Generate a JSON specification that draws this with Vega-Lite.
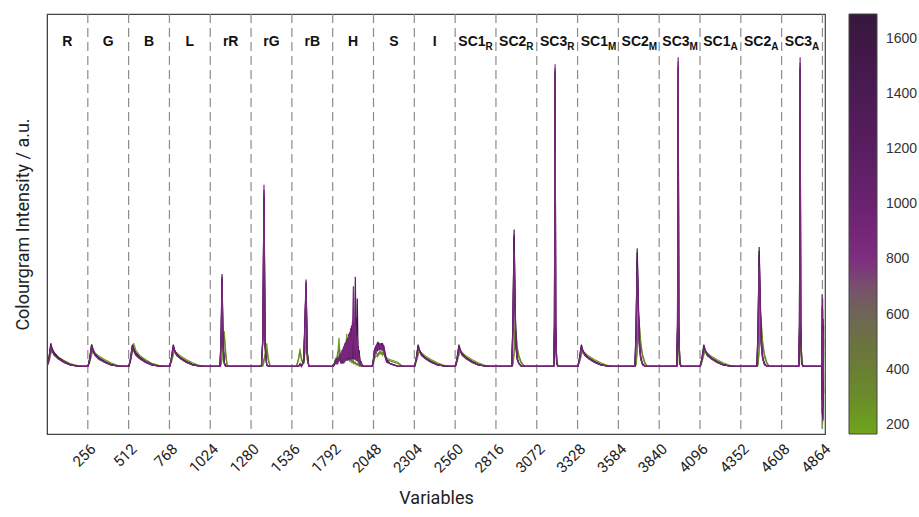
{
  "$schema": "https://vega.github.io/schema/vega-lite/v6.json",
  "width": 778,
  "height": 420,
  "padding": {"left": 14, "top": 13, "right": 0, "bottom": 0},
  "config": {"view": {"stroke": "#444", "strokeWidth": 1.2}, "font": "Roboto"},
  "datasets": {
    "series": [
      {"k": "a", "c": 190}, {"k": "b", "c": 380}, {"k": "c", "c": 850},
      {"k": "d", "c": 1150}, {"k": "e", "c": 1400}, {"k": "f", "c": 1650}
    ],
    "dividers": [
      {"x": 256}, {"x": 512}, {"x": 768}, {"x": 1024}, {"x": 1280}, {"x": 1536}, {"x": 1792},
      {"x": 2048}, {"x": 2304}, {"x": 2560}, {"x": 2816}, {"x": 3072}, {"x": 3328}, {"x": 3584},
      {"x": 3840}, {"x": 4096}, {"x": 4352}, {"x": 4608}, {"x": 4864}
    ],
    "plainLabels": [
      {"x": 128, "t": "R"}, {"x": 384, "t": "G"}, {"x": 640, "t": "B"}, {"x": 896, "t": "L"},
      {"x": 1152, "t": "rR"}, {"x": 1408, "t": "rG"}, {"x": 1664, "t": "rB"}, {"x": 1920, "t": "H"},
      {"x": 2176, "t": "S"}, {"x": 2432, "t": "I"}
    ],
    "subLabels": [
      {"x": 2688, "t": "SC1", "s": "R"}, {"x": 2944, "t": "SC2", "s": "R"}, {"x": 3200, "t": "SC3", "s": "R"},
      {"x": 3456, "t": "SC1", "s": "M"}, {"x": 3712, "t": "SC2", "s": "M"}, {"x": 3968, "t": "SC3", "s": "M"},
      {"x": 4224, "t": "SC1", "s": "A"}, {"x": 4480, "t": "SC2", "s": "A"}, {"x": 4736, "t": "SC3", "s": "A"}
    ],
    "curves": [
      {"x": 0, "a": 0, "b": 0, "c": 0, "d": 0, "e": 0, "f": 0},
      {"x": 12, "a": 0.03, "b": 0.04, "c": 0.05, "d": 0.06, "e": 0.06, "f": 0.05},
      {"x": 24, "a": 0.09, "b": 0.11, "c": 0.14, "d": 0.16, "e": 0.17, "f": 0.15},
      {"x": 32, "a": 0.12, "b": 0.12, "c": 0.11, "d": 0.12, "e": 0.13, "f": 0.13},
      {"x": 45, "a": 0.1, "b": 0.09, "c": 0.08, "d": 0.085, "e": 0.09, "f": 0.1},
      {"x": 70, "a": 0.07, "b": 0.065, "c": 0.055, "d": 0.055, "e": 0.06, "f": 0.065},
      {"x": 105, "a": 0.045, "b": 0.04, "c": 0.03, "d": 0.03, "e": 0.03, "f": 0.035},
      {"x": 145, "a": 0.02, "b": 0.015, "c": 0.01, "d": 0.01, "e": 0.01, "f": 0.012},
      {"x": 190, "a": 0.005, "b": 0.003, "c": 0.002, "d": 0.002, "e": 0, "f": 0},
      {"x": 225, "a": 0, "b": 0, "c": 0, "d": 0, "e": 0, "f": 0},

      {"x": 258, "a": 0, "b": 0, "c": 0, "d": 0, "e": 0, "f": 0},
      {"x": 268, "a": 0.03, "b": 0.04, "c": 0.05, "d": 0.06, "e": 0.05, "f": 0.06},
      {"x": 280, "a": 0.08, "b": 0.1, "c": 0.13, "d": 0.16, "e": 0.15, "f": 0.16},
      {"x": 288, "a": 0.11, "b": 0.12, "c": 0.11, "d": 0.12, "e": 0.12, "f": 0.13},
      {"x": 301, "a": 0.1, "b": 0.09, "c": 0.08, "d": 0.08, "e": 0.09, "f": 0.09},
      {"x": 326, "a": 0.075, "b": 0.065, "c": 0.05, "d": 0.055, "e": 0.06, "f": 0.06},
      {"x": 361, "a": 0.05, "b": 0.04, "c": 0.03, "d": 0.03, "e": 0.03, "f": 0.035},
      {"x": 401, "a": 0.025, "b": 0.015, "c": 0.01, "d": 0.01, "e": 0.01, "f": 0.012},
      {"x": 446, "a": 0.005, "b": 0.003, "c": 0.002, "d": 0.002, "e": 0, "f": 0},
      {"x": 481, "a": 0, "b": 0, "c": 0, "d": 0, "e": 0, "f": 0},

      {"x": 514, "a": 0, "b": 0, "c": 0, "d": 0, "e": 0, "f": 0},
      {"x": 524, "a": 0.04, "b": 0.04, "c": 0.05, "d": 0.06, "e": 0.06, "f": 0.05},
      {"x": 536, "a": 0.12, "b": 0.11, "c": 0.13, "d": 0.15, "e": 0.16, "f": 0.15},
      {"x": 544, "a": 0.17, "b": 0.14, "c": 0.11, "d": 0.12, "e": 0.13, "f": 0.12},
      {"x": 557, "a": 0.12, "b": 0.1, "c": 0.08, "d": 0.085, "e": 0.09, "f": 0.1},
      {"x": 582, "a": 0.08, "b": 0.07, "c": 0.055, "d": 0.055, "e": 0.06, "f": 0.065},
      {"x": 617, "a": 0.05, "b": 0.045, "c": 0.03, "d": 0.03, "e": 0.03, "f": 0.035},
      {"x": 657, "a": 0.022, "b": 0.018, "c": 0.01, "d": 0.01, "e": 0.01, "f": 0.012},
      {"x": 702, "a": 0.006, "b": 0.004, "c": 0.002, "d": 0.002, "e": 0, "f": 0},
      {"x": 737, "a": 0, "b": 0, "c": 0, "d": 0, "e": 0, "f": 0},

      {"x": 770, "a": 0, "b": 0, "c": 0, "d": 0, "e": 0, "f": 0},
      {"x": 780, "a": 0.03, "b": 0.04, "c": 0.05, "d": 0.06, "e": 0.06, "f": 0.05},
      {"x": 792, "a": 0.08, "b": 0.1, "c": 0.13, "d": 0.15, "e": 0.16, "f": 0.14},
      {"x": 800, "a": 0.11, "b": 0.11, "c": 0.11, "d": 0.12, "e": 0.12, "f": 0.12},
      {"x": 813, "a": 0.1, "b": 0.09, "c": 0.08, "d": 0.08, "e": 0.09, "f": 0.09},
      {"x": 838, "a": 0.075, "b": 0.065, "c": 0.055, "d": 0.055, "e": 0.06, "f": 0.06},
      {"x": 873, "a": 0.05, "b": 0.04, "c": 0.03, "d": 0.03, "e": 0.03, "f": 0.035},
      {"x": 913, "a": 0.025, "b": 0.015, "c": 0.01, "d": 0.01, "e": 0.01, "f": 0.012},
      {"x": 958, "a": 0.006, "b": 0.003, "c": 0.002, "d": 0.002, "e": 0, "f": 0},
      {"x": 993, "a": 0, "b": 0, "c": 0, "d": 0, "e": 0, "f": 0},

      {"x": 1085, "a": 0, "b": 0, "c": 0, "d": 0, "e": 0, "f": 0},
      {"x": 1092, "a": 0.01, "b": 0.02, "c": 0.15, "d": 0.2, "e": 0.22, "f": 0.18},
      {"x": 1098, "a": 0.05, "b": 0.08, "c": 0.62, "d": 0.68, "e": 0.66, "f": 0.64},
      {"x": 1104, "a": 0.2, "b": 0.18, "c": 0.15, "d": 0.18, "e": 0.2, "f": 0.16},
      {"x": 1112, "a": 0.26, "b": 0.22, "c": 0.02, "d": 0.03, "e": 0.03, "f": 0.02},
      {"x": 1120, "a": 0.12, "b": 0.08, "c": 0, "d": 0, "e": 0, "f": 0},
      {"x": 1130, "a": 0.01, "b": 0, "c": 0, "d": 0, "e": 0, "f": 0},
      {"x": 1140, "a": 0, "b": 0, "c": 0, "d": 0, "e": 0, "f": 0},

      {"x": 1345, "a": 0, "b": 0, "c": 0, "d": 0, "e": 0, "f": 0},
      {"x": 1354, "a": 0, "b": 0.01, "c": 0.2, "d": 0.2, "e": 0.22, "f": 0.2},
      {"x": 1361, "a": 0.03, "b": 0.05, "c": 1.34, "d": 1.3, "e": 1.27, "f": 1.25},
      {"x": 1368, "a": 0.1, "b": 0.08, "c": 0.15, "d": 0.15, "e": 0.16, "f": 0.14},
      {"x": 1378, "a": 0.17, "b": 0.13, "c": 0.01, "d": 0.01, "e": 0.01, "f": 0.01},
      {"x": 1388, "a": 0.06, "b": 0.04, "c": 0, "d": 0, "e": 0, "f": 0},
      {"x": 1400, "a": 0, "b": 0, "c": 0, "d": 0, "e": 0, "f": 0},

      {"x": 1565, "a": 0, "b": 0, "c": 0, "d": 0, "e": 0, "f": 0},
      {"x": 1578, "a": 0.06, "b": 0.05, "c": 0, "d": 0, "e": 0, "f": 0},
      {"x": 1587, "a": 0.13, "b": 0.11, "c": 0.01, "d": 0.01, "e": 0.02, "f": 0.01},
      {"x": 1596, "a": 0.04, "b": 0.06, "c": 0.01, "d": 0, "e": 0, "f": 0},
      {"x": 1610, "a": 0.02, "b": 0.02, "c": 0.03, "d": 0.04, "e": 0.04, "f": 0.03},
      {"x": 1618, "a": 0.1, "b": 0.12, "c": 0.3, "d": 0.35, "e": 0.3, "f": 0.32},
      {"x": 1625, "a": 0.2, "b": 0.25, "c": 0.6, "d": 0.64, "e": 0.62, "f": 0.58},
      {"x": 1632, "a": 0.05, "b": 0.06, "c": 0.1, "d": 0.12, "e": 0.1, "f": 0.1},
      {"x": 1642, "a": 0, "b": 0, "c": 0, "d": 0, "e": 0, "f": 0},

      {"x": 1796, "a": 0, "b": 0, "c": 0, "d": 0, "e": 0, "f": 0},
      {"x": 1802, "a": 0.02, "b": 0.01, "c": 0.01, "d": 0.02, "e": 0.01, "f": 0.02},
      {"x": 1808, "a": 0.05, "b": 0.03, "c": 0.02, "d": 0.03, "e": 0.04, "f": 0.02},
      {"x": 1814, "a": 0.03, "b": 0.06, "c": 0.04, "d": 0.02, "e": 0.03, "f": 0.05},
      {"x": 1820, "a": 0.08, "b": 0.04, "c": 0.03, "d": 0.05, "e": 0.02, "f": 0.04},
      {"x": 1826, "a": 0.12, "b": 0.09, "c": 0.05, "d": 0.03, "e": 0.06, "f": 0.04},
      {"x": 1832, "a": 0.21, "b": 0.14, "c": 0.04, "d": 0.07, "e": 0.05, "f": 0.06},
      {"x": 1838, "a": 0.06, "b": 0.1, "c": 0.08, "d": 0.05, "e": 0.09, "f": 0.07},
      {"x": 1844, "a": 0.04, "b": 0.05, "c": 0.1, "d": 0.02, "e": 0.06, "f": 0.09},
      {"x": 1850, "a": 0.06, "b": 0.08, "c": 0.03, "d": 0.12, "e": 0.02, "f": 0.08},
      {"x": 1856, "a": 0.03, "b": 0.05, "c": 0.13, "d": 0.03, "e": 0.12, "f": 0.02},
      {"x": 1862, "a": 0.05, "b": 0.07, "c": 0.02, "d": 0.15, "e": 0.03, "f": 0.14},
      {"x": 1868, "a": 0.09, "b": 0.06, "c": 0.17, "d": 0.04, "e": 0.16, "f": 0.03},
      {"x": 1874, "a": 0.12, "b": 0.15, "c": 0.04, "d": 0.18, "e": 0.05, "f": 0.17},
      {"x": 1880, "a": 0.24, "b": 0.18, "c": 0.2, "d": 0.05, "e": 0.19, "f": 0.04},
      {"x": 1886, "a": 0.08, "b": 0.12, "c": 0.05, "d": 0.21, "e": 0.04, "f": 0.19},
      {"x": 1892, "a": 0.05, "b": 0.06, "c": 0.24, "d": 0.06, "e": 0.22, "f": 0.05},
      {"x": 1898, "a": 0.04, "b": 0.05, "c": 0.06, "d": 0.25, "e": 0.05, "f": 0.22},
      {"x": 1904, "a": 0.06, "b": 0.04, "c": 0.28, "d": 0.05, "e": 0.26, "f": 0.06},
      {"x": 1910, "a": 0.03, "b": 0.05, "c": 0.05, "d": 0.3, "e": 0.06, "f": 0.25},
      {"x": 1916, "a": 0.04, "b": 0.03, "c": 0.23, "d": 0.06, "e": 0.33, "f": 0.05},
      {"x": 1922, "a": 0.02, "b": 0.04, "c": 0.59, "d": 0.25, "e": 0.05, "f": 0.34},
      {"x": 1928, "a": 0.03, "b": 0.02, "c": 0.05, "d": 0.06, "e": 0.28, "f": 0.05},
      {"x": 1934, "a": 0.02, "b": 0.03, "c": 0.3, "d": 0.66, "e": 0.05, "f": 0.3},
      {"x": 1940, "a": 0.01, "b": 0.02, "c": 0.04, "d": 0.05, "e": 0.36, "f": 0.04},
      {"x": 1946, "a": 0.02, "b": 0.01, "c": 0.22, "d": 0.26, "e": 0.04, "f": 0.5},
      {"x": 1952, "a": 0.01, "b": 0.02, "c": 0.03, "d": 0.04, "e": 0.15, "f": 0.03},
      {"x": 1958, "a": 0, "b": 0.01, "c": 0.07, "d": 0.1, "e": 0.02, "f": 0.12},
      {"x": 1964, "a": 0.01, "b": 0, "c": 0.01, "d": 0.02, "e": 0.04, "f": 0.02},
      {"x": 1970, "a": 0, "b": 0, "c": 0.02, "d": 0.03, "e": 0.01, "f": 0.03},
      {"x": 1976, "a": 0, "b": 0, "c": 0, "d": 0.01, "e": 0, "f": 0.01},
      {"x": 1985, "a": 0, "b": 0, "c": 0, "d": 0, "e": 0, "f": 0},

      {"x": 2040, "a": 0, "b": 0, "c": 0, "d": 0, "e": 0, "f": 0},
      {"x": 2048, "a": 0.02, "b": 0.03, "c": 0.05, "d": 0.06, "e": 0.04, "f": 0.05},
      {"x": 2056, "a": 0.06, "b": 0.08, "c": 0.12, "d": 0.13, "e": 0.11, "f": 0.1},
      {"x": 2064, "a": 0.08, "b": 0.1, "c": 0.1, "d": 0.15, "e": 0.14, "f": 0.12},
      {"x": 2072, "a": 0.07, "b": 0.09, "c": 0.16, "d": 0.11, "e": 0.17, "f": 0.15},
      {"x": 2080, "a": 0.1, "b": 0.08, "c": 0.12, "d": 0.16, "e": 0.13, "f": 0.17},
      {"x": 2088, "a": 0.09, "b": 0.11, "c": 0.17, "d": 0.13, "e": 0.16, "f": 0.12},
      {"x": 2096, "a": 0.11, "b": 0.09, "c": 0.12, "d": 0.17, "e": 0.14, "f": 0.16},
      {"x": 2104, "a": 0.08, "b": 0.1, "c": 0.15, "d": 0.12, "e": 0.17, "f": 0.13},
      {"x": 2112, "a": 0.1, "b": 0.09, "c": 0.11, "d": 0.14, "e": 0.12, "f": 0.15},
      {"x": 2120, "a": 0.07, "b": 0.08, "c": 0.07, "d": 0.09, "e": 0.08, "f": 0.1},
      {"x": 2130, "a": 0.06, "b": 0.05, "c": 0.03, "d": 0.04, "e": 0.04, "f": 0.05},
      {"x": 2150, "a": 0.05, "b": 0.04, "c": 0.02, "d": 0.02, "e": 0.02, "f": 0.02},
      {"x": 2175, "a": 0.04, "b": 0.03, "c": 0.01, "d": 0.01, "e": 0.01, "f": 0.01},
      {"x": 2200, "a": 0.03, "b": 0.02, "c": 0, "d": 0, "e": 0, "f": 0},
      {"x": 2230, "a": 0, "b": 0, "c": 0, "d": 0, "e": 0, "f": 0},

      {"x": 2306, "a": 0, "b": 0, "c": 0, "d": 0, "e": 0, "f": 0},
      {"x": 2316, "a": 0.03, "b": 0.04, "c": 0.05, "d": 0.06, "e": 0.06, "f": 0.05},
      {"x": 2328, "a": 0.08, "b": 0.1, "c": 0.13, "d": 0.15, "e": 0.16, "f": 0.14},
      {"x": 2336, "a": 0.11, "b": 0.11, "c": 0.11, "d": 0.12, "e": 0.12, "f": 0.12},
      {"x": 2349, "a": 0.1, "b": 0.09, "c": 0.08, "d": 0.08, "e": 0.09, "f": 0.09},
      {"x": 2374, "a": 0.075, "b": 0.065, "c": 0.055, "d": 0.055, "e": 0.06, "f": 0.06},
      {"x": 2409, "a": 0.05, "b": 0.04, "c": 0.03, "d": 0.03, "e": 0.03, "f": 0.035},
      {"x": 2449, "a": 0.025, "b": 0.015, "c": 0.01, "d": 0.01, "e": 0.01, "f": 0.012},
      {"x": 2494, "a": 0.006, "b": 0.003, "c": 0.002, "d": 0.002, "e": 0, "f": 0},
      {"x": 2529, "a": 0, "b": 0, "c": 0, "d": 0, "e": 0, "f": 0},

      {"x": 2562, "a": 0, "b": 0, "c": 0, "d": 0, "e": 0, "f": 0},
      {"x": 2572, "a": 0.03, "b": 0.04, "c": 0.05, "d": 0.06, "e": 0.06, "f": 0.05},
      {"x": 2584, "a": 0.08, "b": 0.1, "c": 0.13, "d": 0.15, "e": 0.16, "f": 0.14},
      {"x": 2592, "a": 0.11, "b": 0.11, "c": 0.11, "d": 0.12, "e": 0.12, "f": 0.12},
      {"x": 2605, "a": 0.1, "b": 0.09, "c": 0.08, "d": 0.08, "e": 0.09, "f": 0.09},
      {"x": 2630, "a": 0.075, "b": 0.065, "c": 0.055, "d": 0.055, "e": 0.06, "f": 0.06},
      {"x": 2665, "a": 0.05, "b": 0.04, "c": 0.03, "d": 0.03, "e": 0.03, "f": 0.035},
      {"x": 2705, "a": 0.025, "b": 0.015, "c": 0.01, "d": 0.01, "e": 0.01, "f": 0.012},
      {"x": 2750, "a": 0.006, "b": 0.003, "c": 0.002, "d": 0.002, "e": 0, "f": 0},
      {"x": 2785, "a": 0, "b": 0, "c": 0, "d": 0, "e": 0, "f": 0},

      {"x": 2915, "a": 0, "b": 0, "c": 0, "d": 0, "e": 0, "f": 0},
      {"x": 2922, "a": 0.01, "b": 0.02, "c": 0.2, "d": 0.25, "e": 0.3, "f": 0.28},
      {"x": 2930, "a": 0.08, "b": 0.12, "c": 0.85, "d": 0.95, "e": 1.01, "f": 0.97},
      {"x": 2936, "a": 0.33, "b": 0.28, "c": 0.35, "d": 0.42, "e": 0.48, "f": 0.45},
      {"x": 2942, "a": 0.22, "b": 0.25, "c": 0.12, "d": 0.15, "e": 0.18, "f": 0.15},
      {"x": 2950, "a": 0.12, "b": 0.14, "c": 0.05, "d": 0.05, "e": 0.06, "f": 0.05},
      {"x": 2960, "a": 0.06, "b": 0.08, "c": 0.02, "d": 0.02, "e": 0.02, "f": 0.02},
      {"x": 2975, "a": 0.02, "b": 0.03, "c": 0, "d": 0, "e": 0, "f": 0},
      {"x": 2995, "a": 0, "b": 0, "c": 0, "d": 0, "e": 0, "f": 0},

      {"x": 3178, "a": 0, "b": 0, "c": 0, "d": 0, "e": 0, "f": 0},
      {"x": 3183, "a": 0.02, "b": 0.03, "c": 0.3, "d": 0.3, "e": 0.32, "f": 0.3},
      {"x": 3187, "a": 0.15, "b": 0.2, "c": 2.23, "d": 2.2, "e": 2.18, "f": 2.16},
      {"x": 3191, "a": 0.25, "b": 0.22, "c": 0.3, "d": 0.32, "e": 0.3, "f": 0.3},
      {"x": 3197, "a": 0.05, "b": 0.04, "c": 0.02, "d": 0.02, "e": 0.02, "f": 0.02},
      {"x": 3205, "a": 0, "b": 0, "c": 0, "d": 0, "e": 0, "f": 0},

      {"x": 3330, "a": 0, "b": 0, "c": 0, "d": 0, "e": 0, "f": 0},
      {"x": 3340, "a": 0.03, "b": 0.04, "c": 0.05, "d": 0.06, "e": 0.06, "f": 0.05},
      {"x": 3352, "a": 0.08, "b": 0.1, "c": 0.13, "d": 0.15, "e": 0.16, "f": 0.14},
      {"x": 3360, "a": 0.11, "b": 0.11, "c": 0.11, "d": 0.12, "e": 0.12, "f": 0.12},
      {"x": 3373, "a": 0.1, "b": 0.09, "c": 0.08, "d": 0.08, "e": 0.09, "f": 0.09},
      {"x": 3398, "a": 0.075, "b": 0.065, "c": 0.055, "d": 0.055, "e": 0.06, "f": 0.06},
      {"x": 3433, "a": 0.05, "b": 0.04, "c": 0.03, "d": 0.03, "e": 0.03, "f": 0.035},
      {"x": 3473, "a": 0.025, "b": 0.015, "c": 0.01, "d": 0.01, "e": 0.01, "f": 0.012},
      {"x": 3518, "a": 0.006, "b": 0.003, "c": 0.002, "d": 0.002, "e": 0, "f": 0},
      {"x": 3553, "a": 0, "b": 0, "c": 0, "d": 0, "e": 0, "f": 0},

      {"x": 3688, "a": 0, "b": 0, "c": 0, "d": 0, "e": 0, "f": 0},
      {"x": 3695, "a": 0.01, "b": 0.02, "c": 0.2, "d": 0.25, "e": 0.28, "f": 0.26},
      {"x": 3702, "a": 0.1, "b": 0.14, "c": 0.72, "d": 0.8, "e": 0.87, "f": 0.84},
      {"x": 3708, "a": 0.43, "b": 0.38, "c": 0.42, "d": 0.48, "e": 0.55, "f": 0.5},
      {"x": 3715, "a": 0.3, "b": 0.32, "c": 0.15, "d": 0.18, "e": 0.2, "f": 0.17},
      {"x": 3724, "a": 0.16, "b": 0.18, "c": 0.05, "d": 0.06, "e": 0.07, "f": 0.06},
      {"x": 3735, "a": 0.07, "b": 0.09, "c": 0.02, "d": 0.02, "e": 0.02, "f": 0.01},
      {"x": 3750, "a": 0.02, "b": 0.03, "c": 0, "d": 0, "e": 0, "f": 0},
      {"x": 3765, "a": 0, "b": 0, "c": 0, "d": 0, "e": 0, "f": 0},

      {"x": 3950, "a": 0, "b": 0, "c": 0, "d": 0, "e": 0, "f": 0},
      {"x": 3955, "a": 0.02, "b": 0.03, "c": 0.3, "d": 0.3, "e": 0.32, "f": 0.3},
      {"x": 3959, "a": 0.15, "b": 0.2, "c": 2.28, "d": 2.25, "e": 2.22, "f": 2.2},
      {"x": 3963, "a": 0.25, "b": 0.22, "c": 0.3, "d": 0.32, "e": 0.3, "f": 0.3},
      {"x": 3969, "a": 0.05, "b": 0.04, "c": 0.02, "d": 0.02, "e": 0.02, "f": 0.02},
      {"x": 3977, "a": 0, "b": 0, "c": 0, "d": 0, "e": 0, "f": 0},

      {"x": 4098, "a": 0, "b": 0, "c": 0, "d": 0, "e": 0, "f": 0},
      {"x": 4108, "a": 0.03, "b": 0.04, "c": 0.05, "d": 0.06, "e": 0.06, "f": 0.05},
      {"x": 4120, "a": 0.08, "b": 0.1, "c": 0.13, "d": 0.15, "e": 0.16, "f": 0.14},
      {"x": 4128, "a": 0.11, "b": 0.11, "c": 0.11, "d": 0.12, "e": 0.12, "f": 0.12},
      {"x": 4141, "a": 0.1, "b": 0.09, "c": 0.08, "d": 0.08, "e": 0.09, "f": 0.09},
      {"x": 4166, "a": 0.075, "b": 0.065, "c": 0.055, "d": 0.055, "e": 0.06, "f": 0.06},
      {"x": 4201, "a": 0.05, "b": 0.04, "c": 0.03, "d": 0.03, "e": 0.03, "f": 0.035},
      {"x": 4241, "a": 0.025, "b": 0.015, "c": 0.01, "d": 0.01, "e": 0.01, "f": 0.012},
      {"x": 4286, "a": 0.006, "b": 0.003, "c": 0.002, "d": 0.002, "e": 0, "f": 0},
      {"x": 4321, "a": 0, "b": 0, "c": 0, "d": 0, "e": 0, "f": 0},

      {"x": 4453, "a": 0, "b": 0, "c": 0, "d": 0, "e": 0, "f": 0},
      {"x": 4460, "a": 0.01, "b": 0.02, "c": 0.2, "d": 0.25, "e": 0.28, "f": 0.26},
      {"x": 4467, "a": 0.1, "b": 0.14, "c": 0.74, "d": 0.82, "e": 0.88, "f": 0.85},
      {"x": 4473, "a": 0.46, "b": 0.4, "c": 0.42, "d": 0.48, "e": 0.55, "f": 0.5},
      {"x": 4480, "a": 0.3, "b": 0.33, "c": 0.15, "d": 0.18, "e": 0.2, "f": 0.17},
      {"x": 4489, "a": 0.16, "b": 0.18, "c": 0.05, "d": 0.06, "e": 0.07, "f": 0.06},
      {"x": 4500, "a": 0.07, "b": 0.09, "c": 0.02, "d": 0.02, "e": 0.02, "f": 0.01},
      {"x": 4515, "a": 0.02, "b": 0.03, "c": 0, "d": 0, "e": 0, "f": 0},
      {"x": 4530, "a": 0, "b": 0, "c": 0, "d": 0, "e": 0, "f": 0},

      {"x": 4715, "a": 0, "b": 0, "c": 0, "d": 0, "e": 0, "f": 0},
      {"x": 4720, "a": 0.02, "b": 0.03, "c": 0.3, "d": 0.3, "e": 0.32, "f": 0.3},
      {"x": 4724, "a": 0.15, "b": 0.2, "c": 2.28, "d": 2.24, "e": 2.21, "f": 2.2},
      {"x": 4728, "a": 0.25, "b": 0.22, "c": 0.3, "d": 0.32, "e": 0.3, "f": 0.3},
      {"x": 4734, "a": 0.05, "b": 0.04, "c": 0.02, "d": 0.02, "e": 0.02, "f": 0.02},
      {"x": 4742, "a": 0, "b": 0, "c": 0, "d": 0, "e": 0, "f": 0},

      {"x": 4859, "a": 0, "b": 0, "c": 0, "d": 0, "e": 0, "f": 0},
      {"x": 4862, "a": -0.46, "b": 0.3, "c": 0.53, "d": -0.35, "e": 0.45, "f": -0.25},
      {"x": 4865, "a": 0.2, "b": -0.42, "c": -0.3, "d": 0.5, "e": -0.38, "f": 0.42},
      {"x": 4868, "a": -0.2, "b": 0.1, "c": 0.25, "d": -0.4, "e": 0.35, "f": -0.3},
      {"x": 4871, "a": 0.1, "b": -0.2, "c": -0.1, "d": 0.3, "e": -0.2, "f": 0.2}
    ]
  },
  "encoding": {
    "x": {
      "field": "x", "type": "quantitative",
      "scale": {"domain": [0, 4880], "nice": false, "zero": false},
      "axis": {
        "values": [256, 512, 768, 1024, 1280, 1536, 1792, 2048, 2304, 2560, 2816, 3072, 3328, 3584, 3840, 4096, 4352, 4608, 4864],
        "format": "d",
        "title": "Variables", "titleFontSize": 18, "titleFontWeight": "normal", "titleColor": "#222", "titlePadding": 14,
        "labelAngle": -45, "labelFontSize": 15, "labelColor": "#222", "labelFlush": false, "labelOverlap": false,
        "ticks": false, "grid": false, "domainColor": "#444", "labelPadding": 7
      }
    }
  },
  "layer": [
    {
      "data": {"name": "dividers"},
      "mark": {"type": "rule", "color": "#8c8c8c", "strokeDash": [9, 5], "strokeWidth": 1.2},
      "encoding": {}
    },
    {
      "data": {"name": "curves"},
      "transform": [
        {"fold": ["a", "b", "f", "e", "d", "c"], "as": ["k", "y"]},
        {"lookup": "k", "from": {"data": {"name": "series"}, "key": "k", "fields": ["c"]}}
      ],
      "mark": {"type": "line", "strokeWidth": 1.2, "clip": true},
      "encoding": {
        "y": {
          "field": "y", "type": "quantitative",
          "scale": {"domain": [-0.5, 2.6], "nice": false, "zero": false},
          "axis": {
            "title": "Colourgram Intensity / a.u.", "titleFontSize": 18, "titleFontWeight": "normal", "titleColor": "#222",
            "labels": false, "ticks": false, "grid": false, "domainColor": "#444", "titlePadding": 15
          }
        },
        "color": {
          "field": "c", "type": "quantitative",
          "scale": {
            "domain": [167, 300, 450, 600, 720, 810, 1000, 1200, 1450, 1690],
            "range": ["#6ea51a", "#6a8c2a", "#6a7838", "#6f6656", "#7a4a72", "#7e2a82", "#6a2270", "#591d60", "#481a50", "#37173d"],
            "interpolate": "rgb"
          },
          "legend": {
            "title": null, "values": [200, 400, 600, 800, 1000, 1200, 1400, 1600], "format": "d",
            "gradientLength": 420, "gradientThickness": 28, "labelFontSize": 14, "labelColor": "#333",
            "labelFont": "Liberation Sans", "offset": 24, "padding": 0, "gradientStrokeColor": "#444",
            "gradientStrokeWidth": 1, "labelOffset": 9
          }
        },
        "detail": {"field": "k"}
      }
    },
    {
      "data": {"name": "plainLabels"},
      "mark": {"type": "text", "font": "Liberation Sans", "fontWeight": "bold", "fontSize": 14, "align": "center", "baseline": "middle", "color": "#111"},
      "encoding": {
        "y": {"datum": 2.39, "type": "quantitative"},
        "text": {"field": "t"}
      }
    },
    {
      "data": {"name": "subLabels"},
      "mark": {"type": "text", "font": "Liberation Sans", "fontWeight": "bold", "fontSize": 14, "align": "right", "baseline": "middle", "dx": 10, "color": "#111"},
      "encoding": {
        "y": {"datum": 2.39, "type": "quantitative"},
        "text": {"field": "t"}
      }
    },
    {
      "data": {"name": "subLabels"},
      "mark": {"type": "text", "font": "Liberation Sans", "fontWeight": "bold", "fontSize": 10, "align": "left", "baseline": "middle", "dx": 10, "dy": 5, "color": "#111"},
      "encoding": {
        "y": {"datum": 2.39, "type": "quantitative"},
        "text": {"field": "s"}
      }
    }
  ]
}
